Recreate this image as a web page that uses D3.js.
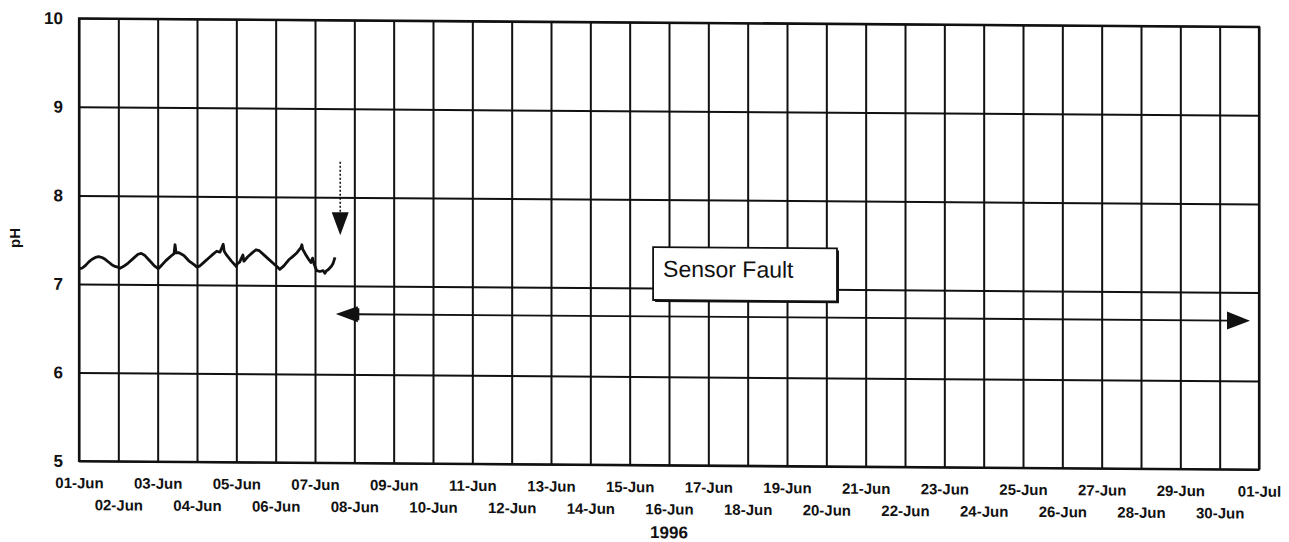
<!DOCTYPE html>
<html>
<head>
<meta charset="utf-8">
<script src="https://cdn.jsdelivr.net/npm/d3@7"></script>
<style>
  body { margin: 0; background: #fff; }
  svg { display: block; }
  text { font-family: "Liberation Sans", Arial, sans-serif; fill: #111; }
</style>
</head>
<body>
<svg id="chart" width="1289" height="542"></svg>
<script>
// ---- data -------------------------------------------------------------
const periodStart = new Date(Date.UTC(1996, 5, 1));
const periodEnd = new Date(Date.UTC(1996, 6, 1));

const dayLabels = [
  "01-Jun", "02-Jun", "03-Jun", "04-Jun", "05-Jun", "06-Jun", "07-Jun", "08-Jun",
  "09-Jun", "10-Jun", "11-Jun", "12-Jun", "13-Jun", "14-Jun", "15-Jun", "16-Jun",
  "17-Jun", "18-Jun", "19-Jun", "20-Jun", "21-Jun", "22-Jun", "23-Jun", "24-Jun",
  "25-Jun", "26-Jun", "27-Jun", "28-Jun", "29-Jun", "30-Jun", "01-Jul"
];
const phTicks = [5, 6, 7, 8, 9, 10];
const yearLabel = "1996";
const yLabel = "pH";

// hours since 01-Jun 00:00 and the logged pH
const readingHours = [
  0, 2, 4, 6, 8, 10, 12, 14, 16, 18, 20, 22, 24,
  25, 27, 30, 33, 36, 38, 40, 42, 44, 46, 47.5,
  48.5, 50, 53, 56, 58, 58.6, 59.2, 61, 64, 67, 70, 72,
  73.5, 76, 79, 82, 84, 86, 88, 88.6, 90, 93, 96,
  96.5, 98, 100, 100.6, 103, 106, 108, 110, 113, 116, 119, 121.5,
  122.5, 125, 128, 130, 133, 135.5, 136, 136.5, 138, 140, 141.5, 142.5, 143.5, 145,
  147, 149, 150, 151, 152, 154, 155, 156.2
];
const readingPH = [
  7.17, 7.18, 7.21, 7.25, 7.28, 7.30, 7.31, 7.30, 7.28, 7.25, 7.22, 7.20, 7.19,
  7.18, 7.20, 7.24, 7.29, 7.34, 7.35, 7.33, 7.29, 7.25, 7.21, 7.19,
  7.18, 7.21, 7.27, 7.32, 7.35, 7.45, 7.36, 7.36, 7.33, 7.27, 7.23, 7.20,
  7.21, 7.25, 7.30, 7.35, 7.38, 7.37, 7.46, 7.38, 7.34, 7.27, 7.21,
  7.24, 7.26, 7.34, 7.27, 7.32, 7.37, 7.40, 7.39, 7.34, 7.29, 7.24, 7.20,
  7.18, 7.22, 7.29, 7.32, 7.37, 7.43, 7.46, 7.41, 7.36, 7.30, 7.26, 7.31, 7.24, 7.17,
  7.16, 7.17, 7.14, 7.17, 7.18, 7.22, 7.25, 7.32
];

// sensor-fault annotation, in hours / pH
const faultNote = "Sensor Fault";
const faultMarkerHour = 159.4;
const faultMarkerPH = [8.40, 7.83, 7.57];   // dotted top, head base, head tip
const faultSpanHours = [156.7, 714.5];
const faultSpanPH = 6.68;
const noteBoxHours = [350.3, 462.5];
const noteBoxPH = [7.463, 6.865];
const noteTextHour = 356.4;
const noteTextPH = 7.128;

// ---- layout -----------------------------------------------------------
const plot = { left: 79, right: 1259, top: 18.3, bottom: 461 };
const tilt = 8.5 / (plot.right - plot.left);
const tiltDeg = Math.atan(tilt) * 180 / Math.PI;

const svg = d3.select("#chart");
const root = svg.append("g")
  .attr("transform", `translate(0,${-plot.left * tilt}) skewY(${tiltDeg})`);

const x = d3.scaleUtc().domain([periodStart, periodEnd]).range([plot.left, plot.right]);
const y = d3.scaleLinear().domain([5, 10]).range([plot.bottom, plot.top]);
const atHour = h => new Date(periodStart.getTime() + h * 3600e3);

const days = d3.utcDay.range(periodStart, d3.utcDay.offset(periodEnd, 1));
const W = plot.right - plot.left, H = plot.bottom - plot.top;
const gridStroke = 2;

// horizontal grid + pH labels
const yAxis = root.append("g")
  .attr("transform", `translate(${plot.left},0)`)
  .call(d3.axisLeft(y).tickValues(phTicks).tickSize(-W).tickSizeOuter(0).tickPadding(16)
    .tickFormat(d3.format("d")));
yAxis.select(".domain").remove();
yAxis.selectAll(".tick line").attr("stroke", "#111").attr("stroke-width", gridStroke);
yAxis.selectAll(".tick text")
  .attr("font-size", 17).attr("font-weight", "bold")
  .attr("font-family", "'Liberation Sans', Arial, sans-serif").attr("fill", "#111");

// vertical day grid + staggered date labels
const xAxis = root.append("g")
  .attr("transform", `translate(0,${plot.bottom})`)
  .call(d3.axisBottom(x).tickValues(days).tickSize(-H).tickSizeOuter(0).tickPadding(0)
    .tickFormat((d, i) => dayLabels[i]));
xAxis.select(".domain").remove();
xAxis.selectAll(".tick line").attr("stroke", "#111").attr("stroke-width", gridStroke);
xAxis.selectAll(".tick text")
  .attr("font-size", 15).attr("font-weight", "bold")
  .attr("font-family", "'Liberation Sans', Arial, sans-serif").attr("fill", "#111")
  .attr("y", (d, i) => i % 2 === 0 ? 16.5 : 38.5);

// frame
root.append("rect")
  .attr("x", plot.left).attr("y", plot.top).attr("width", W).attr("height", H)
  .attr("fill", "none").attr("stroke", "#111").attr("stroke-width", 2.2);

// year caption
root.append("text")
  .attr("x", (plot.left + plot.right) / 2).attr("y", plot.bottom + 73)
  .attr("text-anchor", "middle").attr("font-size", 17).attr("font-weight", "bold")
  .text(yearLabel);

// pH series
const readings = readingHours.map((h, i) => ({ t: atHour(h), v: readingPH[i] }));
root.append("path")
  .datum(readings)
  .attr("fill", "none").attr("stroke", "#111").attr("stroke-width", 2.8)
  .attr("stroke-linejoin", "round")
  .attr("d", d3.line().x(d => x(d.t)).y(d => y(d.v)));

// dotted marker where the fault begins
const mx = x(atHour(faultMarkerHour));
root.append("line")
  .attr("x1", mx).attr("x2", mx)
  .attr("y1", y(faultMarkerPH[0])).attr("y2", y(faultMarkerPH[1]))
  .attr("stroke", "#111").attr("stroke-width", 1.6).attr("stroke-dasharray", "2,2");
root.append("path")
  .attr("d", `M${mx - 8.5},${y(faultMarkerPH[1])} L${mx + 8.5},${y(faultMarkerPH[1])} L${mx},${y(faultMarkerPH[2])} Z`)
  .attr("fill", "#111");

// double-headed span arrow
const sy = y(faultSpanPH);
const sx0 = x(atHour(faultSpanHours[0])), sx1 = x(atHour(faultSpanHours[1]));
root.append("line")
  .attr("x1", sx0 + 20).attr("x2", sx1 - 20).attr("y1", sy).attr("y2", sy)
  .attr("stroke", "#111").attr("stroke-width", 1.8);
root.append("path")
  .attr("d", `M${sx0},${sy} L${sx0 + 22},${sy - 8} L${sx0 + 22},${sy + 8} Z`)
  .attr("fill", "#111");
root.append("rect")
  .attr("x", sx0 + 20).attr("y", sy - 6).attr("width", 3.5).attr("height", 12)
  .attr("fill", "#111");
root.append("path")
  .attr("d", `M${sx1},${sy} L${sx1 - 23},${sy - 9} L${sx1 - 23},${sy + 9} Z`)
  .attr("fill", "#111");

// note box
const bx0 = x(atHour(noteBoxHours[0])), bx1 = x(atHour(noteBoxHours[1]));
const by0 = y(noteBoxPH[0]), by1 = y(noteBoxPH[1]);
root.append("rect")
  .attr("x", bx0 + 2).attr("y", by0 + 2).attr("width", bx1 - bx0).attr("height", by1 - by0)
  .attr("fill", "#111");
root.append("rect")
  .attr("x", bx0).attr("y", by0).attr("width", bx1 - bx0).attr("height", by1 - by0)
  .attr("fill", "#fff").attr("stroke", "#111").attr("stroke-width", 1.8);
root.append("text")
  .attr("x", x(atHour(noteTextHour))).attr("y", y(noteTextPH))
  .attr("font-size", 23).text(faultNote);

// y-axis title
svg.append("text")
  .attr("transform", "translate(20,238) rotate(-90)")
  .attr("text-anchor", "middle").attr("font-size", 15).attr("font-weight", "bold")
  .text(yLabel);
</script>
</body>
</html>
